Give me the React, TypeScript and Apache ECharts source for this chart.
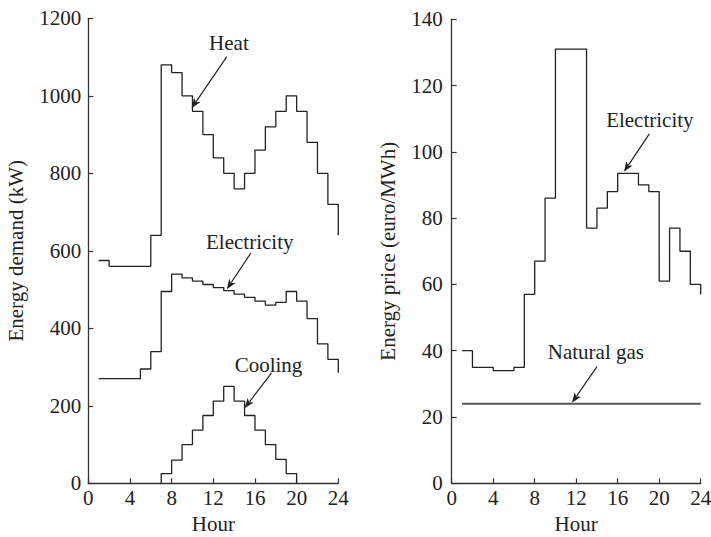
import React, { useEffect, useRef } from "react";
import * as echarts from "echarts";

// ---- data ----
const hours = [1, 2, 3, 4, 5, 6, 7, 8, 9, 10, 11, 12, 13, 14, 15, 16, 17, 18, 19, 20, 21, 22, 23, 24];
const heatDemand = [575, 560, 560, 560, 560, 640, 1080, 1060, 1000, 960, 900, 840, 800, 760, 800, 860, 920, 960, 1000, 960, 880, 800, 720, 640];
const electricityDemand = [270, 270, 270, 270, 295, 340, 495, 540, 530, 522, 513, 505, 497, 488, 480, 470, 460, 467, 495, 470, 425, 360, 320, 285];
const coolingHours = [7, 8, 9, 10, 11, 12, 13, 14, 15, 16, 17, 18, 19, 20];
const coolingDemand = [25, 60, 100, 137, 175, 212, 250, 212, 175, 137, 100, 62, 25, 0];
const electricityPrice = [40, 35, 35, 34, 34, 35, 57, 67, 86, 131, 131, 131, 77, 83, 88, 93.5, 93.5, 90, 88, 61, 77, 70, 60, 57];
const gasPrice = [24, 24, 24, 24, 24, 24, 24, 24, 24, 24, 24, 24, 24, 24, 24, 24, 24, 24, 24, 24, 24, 24, 24, 24];
const hourTicks = { min: 0, max: 24, interval: 4 };
const demandTicks = { min: 0, max: 1200, interval: 200 };
const priceTicks = { min: 0, max: 140, interval: 20 };

// annotations (in data units)
const leftNotes = [
  { text: "Heat", label: [13.5, 1137], from: [13.3, 1101], to: [9.92, 968] },
  { text: "Electricity", label: [15.5, 623], from: [15.6, 594], to: [13.3, 501] },
  { text: "Cooling", label: [17.3, 305], from: [17.6, 285], to: [15.0, 194] },
];
const rightNotes = [
  { text: "Electricity", label: [19.1, 109.6], from: [19.05, 105.4], to: [16.6, 94] },
  { text: "Natural gas", label: [13.9, 39.7], from: [14.0, 35.2], to: [11.6, 24.3] },
];

const FONT = '"Liberation Serif", "Times New Roman", serif';
const FS = 21;
const INK = "#222";

function pairs(xs: number[], ys: number[]) {
  return xs.map((x, i) => [x, ys[i]]);
}

function arrowEls(p1: number[], p2: number[]) {
  const dx = p2[0] - p1[0];
  const dy = p2[1] - p1[1];
  const len = Math.hypot(dx, dy);
  const ux = dx / len;
  const uy = dy / len;
  const hl = 10;
  const hw = 3.8;
  const bx = p2[0] - ux * hl;
  const by = p2[1] - uy * hl;
  return [
    {
      type: "line",
      shape: { x1: p1[0], y1: p1[1], x2: bx + ux * 2, y2: by + uy * 2 },
      style: { stroke: INK, lineWidth: 1.2 },
      silent: true,
    },
    {
      type: "polygon",
      shape: {
        points: [
          [p2[0], p2[1]],
          [bx - uy * hw, by + ux * hw],
          [bx + ux * 2.5, by + uy * 2.5],
          [bx + uy * hw, by - ux * hw],
        ],
      },
      style: { fill: INK },
      silent: true,
    },
  ];
}

function axisX(gridIndex: number) {
  return {
    type: "value",
    gridIndex,
    ...hourTicks,
    name: "Hour",
    nameLocation: "middle",
    nameGap: 27,
    nameTextStyle: { fontFamily: FONT, fontSize: FS, color: INK },
    axisLine: { show: true, lineStyle: { color: "#333", width: 1.3 } },
    axisTick: { show: true, inside: true, length: 5, lineStyle: { color: "#333", width: 1.2 } },
    axisLabel: { fontFamily: FONT, fontSize: FS, color: INK, margin: 4, formatter: (v: number) => String(v) },
    splitLine: { show: false },
  };
}

function axisY(gridIndex: number, ticks: any, name: string, nameGap: number, margin: number) {
  return {
    type: "value",
    gridIndex,
    ...ticks,
    name,
    nameLocation: "middle",
    nameGap,
    nameTextStyle: { fontFamily: FONT, fontSize: FS, color: INK },
    axisLine: { show: true, lineStyle: { color: "#333", width: 1.3 } },
    axisTick: { show: true, inside: true, length: 5, lineStyle: { color: "#333", width: 1.2 } },
    axisLabel: { fontFamily: FONT, fontSize: FS, color: INK, margin, formatter: (v: number) => String(v) },
    splitLine: { show: false },
  };
}

function stepSeries(name: string, xi: number, data: number[][], color = INK, width = 1.3) {
  return {
    name,
    type: "line",
    xAxisIndex: xi,
    yAxisIndex: xi,
    step: "end",
    showSymbol: false,
    symbol: "none",
    data,
    lineStyle: { color, width },
    silent: true,
  };
}

export default function App() {
  const ref = useRef<HTMLDivElement>(null);
  useEffect(() => {
    const chart = echarts.init(ref.current!, null, { renderer: "svg" });
    const coolingData = [[coolingHours[0], 0], ...pairs(coolingHours, coolingDemand)];
    chart.setOption({
      animation: false,
      backgroundColor: "#fff",
      grid: [
        { left: 88.3, top: 18.3, width: 250, height: 465, outerBoundsMode: "none" },
        { left: 451.7, top: 19.2, width: 249, height: 464.1, outerBoundsMode: "none" },
      ],
      xAxis: [axisX(0), axisX(1)],
      yAxis: [
        axisY(0, demandTicks, "Energy demand (kW)", 62, 7),
        axisY(1, priceTicks, "Energy price (euro/MWh)", 53, 9),
      ],
      series: [
        stepSeries("Heat", 0, pairs(hours, heatDemand)),
        stepSeries("Electricity", 0, pairs(hours, electricityDemand)),
        stepSeries("Cooling", 0, coolingData),
        stepSeries("Electricity price", 1, pairs(hours, electricityPrice)),
        stepSeries("Natural gas", 1, pairs(hours, gasPrice), "#555", 2),
      ],
    });

    const graphics: any[] = [];
    const addNotes = (notes: any[], gridIndex: number) => {
      notes.forEach((n) => {
        const lp = chart.convertToPixel({ gridIndex }, n.label) as number[];
        const fp = chart.convertToPixel({ gridIndex }, n.from) as number[];
        const tp = chart.convertToPixel({ gridIndex }, n.to) as number[];
        graphics.push({
          type: "text",
          silent: true,
          style: {
            text: n.text,
            x: lp[0],
            y: lp[1],
            align: "center",
            verticalAlign: "middle",
            fontFamily: FONT,
            fontSize: FS,
            fill: INK,
          },
        });
        graphics.push(...arrowEls(fp, tp));
      });
    };
    addNotes(leftNotes, 0);
    addNotes(rightNotes, 1);
    chart.setOption({ graphic: graphics });

    return () => chart.dispose();
  }, []);
  return (
    <div
      ref={ref}
      style={{ position: "absolute", left: 0, top: 0, width: 711, height: 537 }}
    />
  );
}
